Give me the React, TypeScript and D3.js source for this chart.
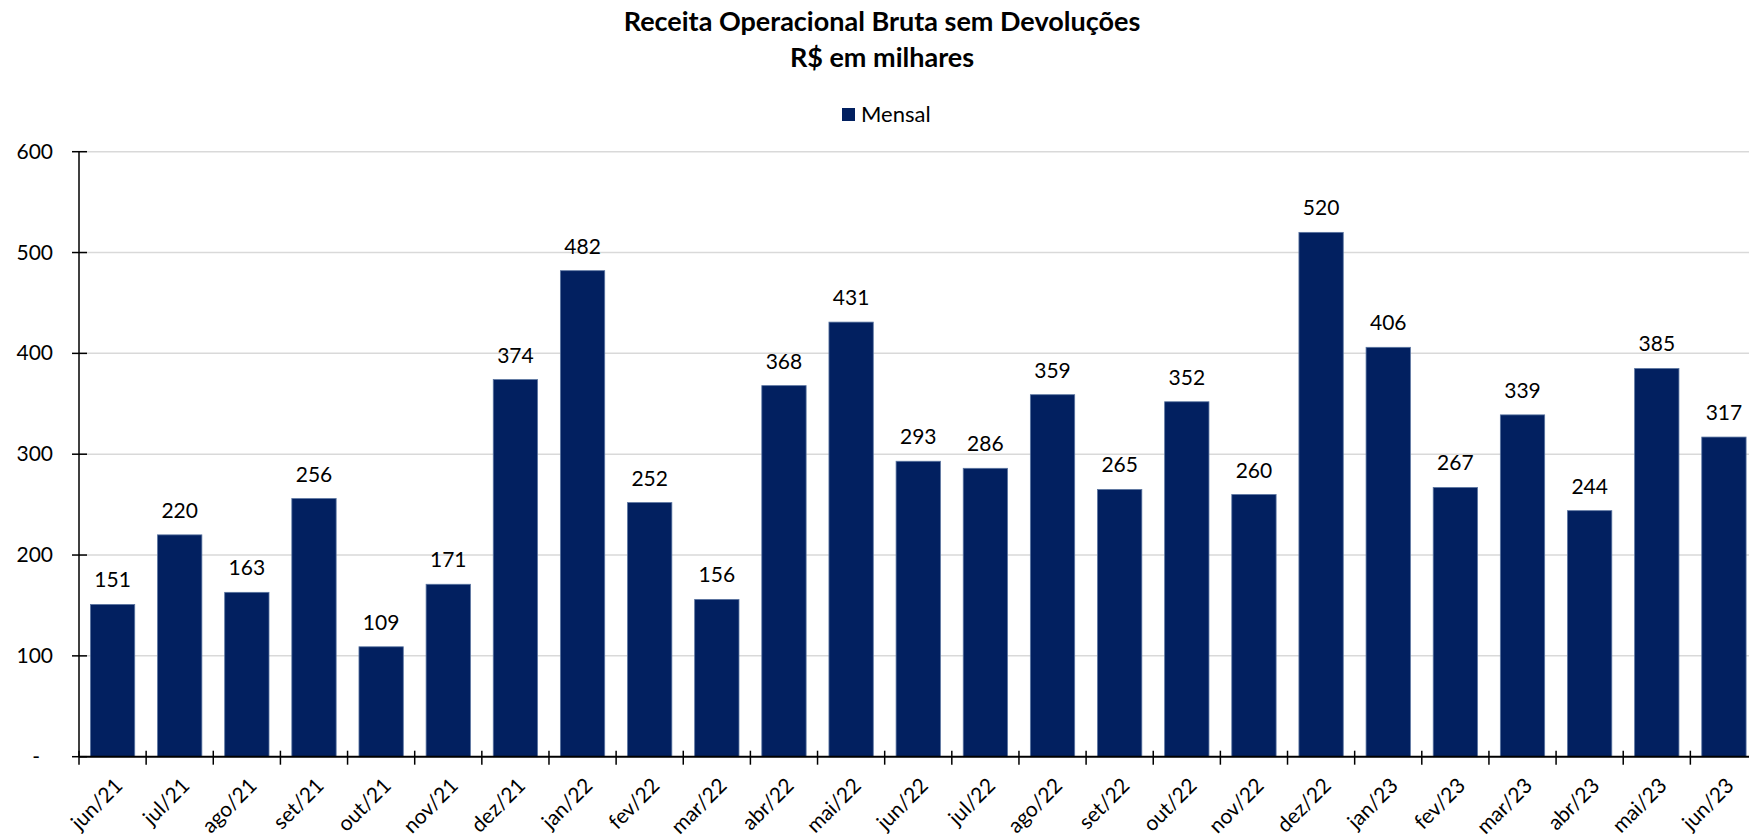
import React, { useEffect, useRef } from 'react';
import * as d3 from 'd3';

const months = [
  'jun/21', 'jul/21', 'ago/21', 'set/21', 'out/21', 'nov/21', 'dez/21',
  'jan/22', 'fev/22', 'mar/22', 'abr/22', 'mai/22', 'jun/22', 'jul/22',
  'ago/22', 'set/22', 'out/22', 'nov/22', 'dez/22', 'jan/23', 'fev/23',
  'mar/23', 'abr/23', 'mai/23', 'jun/23',
];
const mensal = [
  151, 220, 163, 256, 109, 171, 374, 482, 252, 156, 368, 431, 293, 286,
  359, 265, 352, 260, 520, 406, 267, 339, 244, 385, 317,
];
const yTicks = [0, 100, 200, 300, 400, 500, 600];
const titleLines = ['Receita Operacional Bruta sem Devoluções', 'R$ em milhares'];
const legendLabel = 'Mensal';

const W = 1749;
const H = 839;
const FONT = 'Lato, "Open Sans", sans-serif';
const BAR = '#022060';

export default function App() {
  const svgRef = useRef<SVGSVGElement>(null);

  useEffect(() => {
    const svg = d3.select(svgRef.current);
    svg.selectAll('*').remove();

    const left = 79;
    const top = 151.7;
    const bottom = 756.7;

    const x = d3
      .scaleBand()
      .domain(months)
      .range([left, left + 25 * 67.14])
      .paddingInner(0.34)
      .paddingOuter(0.17);

    const y = d3.scaleLinear().domain([0, 600]).range([bottom, top]);

    // title
    svg
      .append('g')
      .selectAll('text')
      .data(titleLines)
      .enter()
      .append('text')
      .attr('x', 882)
      .attr('y', (d, i) => 31 + i * 36)
      .attr('text-anchor', 'middle')
      .style('font-family', FONT)
      .style('font-weight', 'bold')
      .style('font-size', '27px')
      .style('fill', '#000')
      .text((d) => d);

    // legend
    const lg = svg.append('g');
    lg.append('rect')
      .attr('x', 842)
      .attr('y', 108)
      .attr('width', 13)
      .attr('height', 13)
      .attr('fill', BAR);
    lg.append('text')
      .attr('x', 861)
      .attr('y', 122)
      .style('font-family', FONT)
      .style('font-size', '22px')
      .style('fill', '#000')
      .text(legendLabel);

    // gridlines
    svg
      .append('g')
      .selectAll('line')
      .data(yTicks.filter((d) => d > 0))
      .enter()
      .append('line')
      .attr('x1', left)
      .attr('x2', W)
      .attr('y1', (d) => y(d))
      .attr('y2', (d) => y(d))
      .attr('stroke', '#d9d9d9')
      .attr('stroke-width', 1.5);

    // bars
    svg
      .append('g')
      .selectAll('rect')
      .data(mensal)
      .enter()
      .append('rect')
      .attr('x', (d, i) => x(months[i])!)
      .attr('y', (d) => y(d))
      .attr('width', x.bandwidth())
      .attr('height', (d) => y(0) - y(d))
      .attr('fill', BAR)
      .attr('stroke', '#5a74a0')
      .attr('stroke-width', 0.8);

    // data labels
    svg
      .append('g')
      .selectAll('text')
      .data(mensal)
      .enter()
      .append('text')
      .attr('x', (d, i) => x(months[i])! + x.bandwidth() / 2)
      .attr('y', (d) => y(d) - 17)
      .attr('text-anchor', 'middle')
      .style('font-family', FONT)
      .style('font-size', '21px')
      .style('fill', '#000')
      .text((d) => d);

    // y axis
    const ya = svg.append('g');
    ya.append('line')
      .attr('x1', left)
      .attr('x2', left)
      .attr('y1', top)
      .attr('y2', bottom)
      .attr('stroke', '#000')
      .attr('stroke-width', 1.5);
    ya.selectAll('line.tk')
      .data(yTicks)
      .enter()
      .append('line')
      .attr('class', 'tk')
      .attr('x1', left - 7)
      .attr('x2', left + 8)
      .attr('y1', (d) => y(d))
      .attr('y2', (d) => y(d))
      .attr('stroke', '#000')
      .attr('stroke-width', 1.5);
    ya.selectAll('text')
      .data(yTicks)
      .enter()
      .append('text')
      .attr('x', (d) => (d === 0 ? 40 : 53))
      .attr('y', (d) => y(d) + 7)
      .attr('text-anchor', 'end')
      .style('font-family', FONT)
      .style('font-size', '21px')
      .style('fill', '#000')
      .text((d) => (d === 0 ? '-' : d));

    // x axis
    const xa = svg.append('g');
    xa.append('line')
      .attr('x1', left)
      .attr('x2', W)
      .attr('y1', bottom)
      .attr('y2', bottom)
      .attr('stroke', '#000')
      .attr('stroke-width', 2);
    xa.selectAll('line.tk')
      .data(months)
      .enter()
      .append('line')
      .attr('class', 'tk')
      .attr('x1', (d) => x(d)! - x.step() * 0.17)
      .attr('x2', (d) => x(d)! - x.step() * 0.17)
      .attr('y1', bottom - 6)
      .attr('y2', bottom + 8)
      .attr('stroke', '#000')
      .attr('stroke-width', 1.5);
    xa.selectAll('text')
      .data(months)
      .enter()
      .append('text')
      .attr(
        'transform',
        (d) => `translate(${x(d)! + x.bandwidth() / 2 + 6},${bottom + 25}) rotate(-45)`,
      )
      .attr('text-anchor', 'end')
      .attr('dy', '0.35em')
      .style('font-family', FONT)
      .style('font-size', '21px')
      .style('fill', '#000')
      .text((d) => d);
  }, []);

  return (
    <svg
      ref={svgRef}
      width={W}
      height={H}
      style={{ position: 'absolute', left: 0, top: 0, background: '#fff' }}
    />
  );
}
